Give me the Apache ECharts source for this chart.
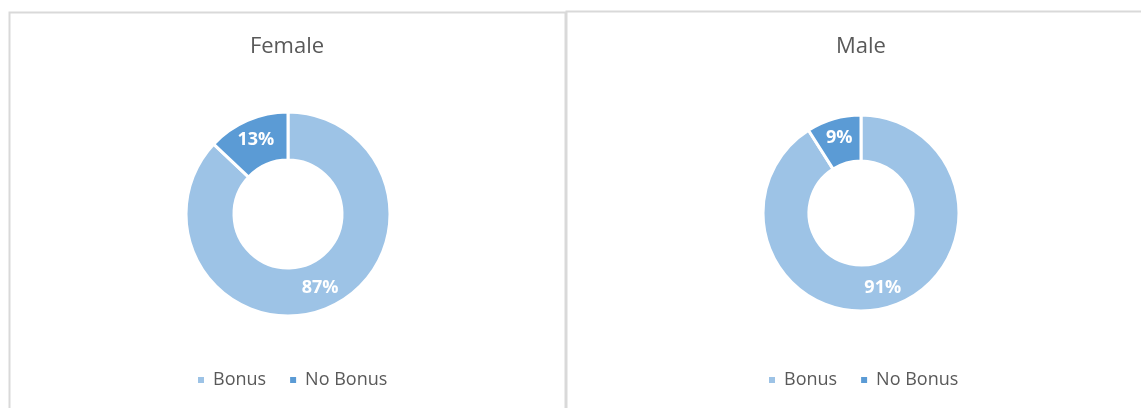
<!DOCTYPE html>
<html>
<head>
<meta charset="utf-8">
<script src="https://cdn.jsdelivr.net/npm/echarts@6/dist/echarts.min.js"></script>
<style>
  html, body { margin: 0; padding: 0; background: #fff; }
  #chart { width: 1141px; height: 408px; }
</style>
</head>
<body>
<div id="chart"></div>
<script>
// data
const categories = ['Bonus', 'No Bonus'];
const femaleValues = [87, 13];
const maleValues = [91, 9];
const colors = ['#9dc3e6', '#5b9bd5'];

const chart = echarts.init(document.getElementById('chart'));

const font = '"Open Sans", "Noto Sans", sans-serif';

function donut(name, values, center, radius) {
  return {
    name: name,
    type: 'pie',
    center: center,
    radius: radius,
    startAngle: 90,
    clockwise: true,
    avoidLabelOverlap: false,
    silent: true,
    itemStyle: { borderColor: '#fff', borderWidth: 3 },
    label: {
      show: true,
      position: 'inside',
      formatter: '{d}%',
      color: '#fff',
      fontWeight: 'bold',
      fontSize: 18,
      fontFamily: font
    },
    labelLine: { show: false },
    data: categories.map((c, i) => ({ name: c, value: values[i] }))
  };
}

const legendBase = {
  data: categories,
  icon: 'rect',
  itemWidth: 8,
  itemHeight: 8,
  itemGap: 22,
  padding: 0,
  top: 371,
  textStyle: { color: '#595959', fontSize: 18, fontFamily: font, padding: [0, 0, 0, 3] }
};

const titleStyle = { color: '#595959', fontSize: 22, fontWeight: 'normal', fontFamily: font };

const option = {
  color: colors,
  animation: false,
  title: [
    { text: 'Female', left: 287, top: 36, padding: 0, textAlign: 'center', textStyle: titleStyle },
    { text: 'Male', left: 861, top: 36, padding: 0, textAlign: 'center', textStyle: titleStyle }
  ],
  legend: [
    Object.assign({}, legendBase, { left: 196, seriesIndex: 0 }),
    Object.assign({}, legendBase, { left: 767, seriesIndex: 1 })
  ],
  graphic: [
    { type: 'rect', shape: { x: 9.5, y: 12.5, width: 556, height: 420 },
      style: { fill: null, stroke: '#d9d9d9', lineWidth: 2 }, silent: true },
    { type: 'rect', shape: { x: 566.5, y: 11.5, width: 600, height: 420 },
      style: { fill: null, stroke: '#d9d9d9', lineWidth: 2 }, silent: true }
  ],
  series: [
    donut('Female', femaleValues, [288, 214], [54, 102]),
    donut('Male', maleValues, [861, 213], [52, 98])
  ]
};

chart.setOption(option);
</script>
</body>
</html>
